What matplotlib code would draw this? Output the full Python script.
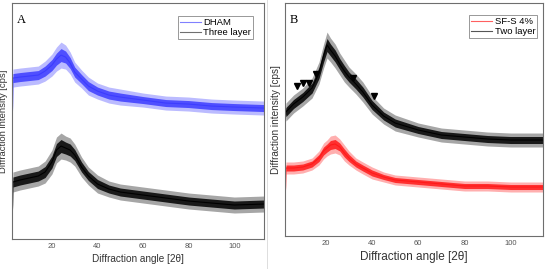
#!/usr/bin/env python3
import numpy as np
import matplotlib
matplotlib.use('Agg')
import matplotlib.pyplot as plt
from matplotlib.lines import Line2D

plt.rcParams.update({
    "font.family": ["Liberation Sans", "DejaVu Sans"],
    "axes.linewidth": 0.8,
})

# panel A: DHAM / Three layer  (arbitrary cps units)
a_theta = [2.6, 2.9, 6, 10, 14, 17, 20, 22, 24, 26, 28, 30, 33, 36, 40, 45, 50, 60, 70, 80, 90, 100, 113]
a_dham = [113, 161, 162, 163, 164, 168, 174, 180, 184, 182, 176, 167, 160, 153, 148, 144, 142, 139, 136, 135, 133, 132, 131]
a_dham_spread = [0, 9, 9, 9, 9, 10, 11, 12, 13, 12, 11, 10, 9, 9, 8, 8, 8, 7, 7, 7, 7, 7, 7]
a_three = [17, 57, 59, 61, 63, 67, 77, 89, 93, 91, 89, 84, 72, 63, 55, 50, 47, 44, 41, 38, 36, 34, 35]
a_three_spread = [0, 10, 10, 10, 10, 11, 12, 13, 13, 12, 12, 11, 10, 9, 9, 8, 8, 8, 8, 8, 8, 8, 8]

# panel B: SF-S 4% / Two layer
b_theta = [2.4, 2.7, 6, 10, 14, 17, 19, 20.5, 22, 24, 26, 28, 30, 33, 36, 40, 45, 50, 60, 70, 80, 90, 100, 114]
b_sfs = [36, 68, 68, 69, 72, 78, 85, 88, 91, 92, 89, 83, 78, 72, 68, 63, 59, 56, 54, 52, 50, 50, 49, 49]
b_sfs_spread = [0, 6, 6, 6, 6, 7, 8, 8, 9, 9, 8, 8, 7, 6, 6, 6, 5, 5, 5, 5, 5, 5, 5, 5]
b_two = [124, 124, 132, 139, 148, 163, 180, 191, 186, 180, 172, 165, 159, 152, 144, 131, 120, 113, 106, 101, 99, 97, 96, 96]
b_two_spread = [0, 9, 9, 9, 10, 11, 12, 13, 12, 12, 11, 11, 10, 10, 10, 9, 8, 8, 7, 7, 7, 7, 7, 7]

# triangle markers on the Two layer curve
b_mark_theta = [7.5, 10.1, 12.7, 15.7, 31.7, 40.8]
b_mark_int = [150, 153, 153, 162, 158, 140]


def noisy_trace(ax, x, mid, spread, color):
    x = np.asarray(x, float)
    mid = np.asarray(mid, float)
    spread = np.asarray(spread, float)
    ax.fill_between(x, mid - spread, mid + spread, color=color, alpha=0.35, lw=0)
    ax.fill_between(x, mid - spread * 0.5, mid + spread * 0.5, color=color, alpha=0.85, lw=0)
    ax.plot(x, mid, color=color, linewidth=0.8)


def style_axes(ax, xlim, ylim, xlabel_size, ylabel_size):
    ax.set_xlim(*xlim)
    ax.set_ylim(*ylim)
    ax.set_xticks([20, 40, 60, 80, 100])
    ax.set_yticks([])
    ax.tick_params(axis='x', length=0, pad=3, labelsize=5.5, labelcolor='#555555')
    for sp in ax.spines.values():
        sp.set_color('#6e6e6e')
    ax.set_xlabel(r'Diffraction angle [2θ]', fontsize=xlabel_size, color='#333333', labelpad=3)
    ax.set_ylabel('Diffraction intensity [cps]', fontsize=ylabel_size, color='#333333', labelpad=3)


def main():
    fig = plt.figure(figsize=(5.46, 2.69), dpi=100)
    ax1 = fig.add_axes([0.022, 0.1115, 0.4615, 0.877])
    ax2 = fig.add_axes([0.522, 0.1227, 0.4725, 0.866])

    # panel A
    noisy_trace(ax1, a_theta, a_dham, a_dham_spread, '#3c3cff')
    noisy_trace(ax1, a_theta, a_three, a_three_spread, 'black')
    style_axes(ax1, (2.5, 113), (0, 236), 7.2, 6.8)
    ax1.text(0.02, 0.955, 'A', transform=ax1.transAxes, fontsize=9,
             family=['Liberation Serif', 'DejaVu Serif'], va='top')
    handles = [Line2D([], [], color='#8080ff', lw=0.8), Line2D([], [], color='#707070', lw=0.8)]
    ax1.legend(handles, ['DHAM', 'Three layer'], loc='upper right', fontsize=6.8,
               fancybox=False, framealpha=1, edgecolor='#888888', borderpad=0.2,
               handlelength=2.2, handletextpad=0.3, labelspacing=0.1, borderaxespad=0,
               bbox_to_anchor=(0.957, 0.945)).get_frame().set_linewidth(0.6)

    # panel B
    noisy_trace(ax2, b_theta, b_two, b_two_spread, 'black')
    noisy_trace(ax2, b_theta, b_sfs, b_sfs_spread, '#ff1a1a')
    ax2.plot(b_mark_theta, b_mark_int, linestyle='none', marker='v', markersize=4,
             color='black')
    style_axes(ax2, (2.3, 114), (0, 233), 8.5, 7.2)
    ax2.text(0.018, 0.955, 'B', transform=ax2.transAxes, fontsize=9,
             family=['Liberation Serif', 'DejaVu Serif'], va='top')
    handles = [Line2D([], [], color='#ff6060', lw=0.8), Line2D([], [], color='#555555', lw=0.8)]
    ax2.legend(handles, ['SF-S 4%', 'Two layer'], loc='upper right', fontsize=6.8,
               fancybox=False, framealpha=1, edgecolor='#888888', borderpad=0.2,
               handlelength=2.2, handletextpad=0.3, labelspacing=0.1, borderaxespad=0,
               bbox_to_anchor=(0.977, 0.948)).get_frame().set_linewidth(0.6)

    # thin separator between the panels
    fig.add_artist(Line2D([267 / 546, 267 / 546], [0, 1], color='#d8d8d8', lw=0.6))

    fig.savefig('out.png', dpi=100)
    plt.close(fig)


if __name__ == '__main__':
    main()
